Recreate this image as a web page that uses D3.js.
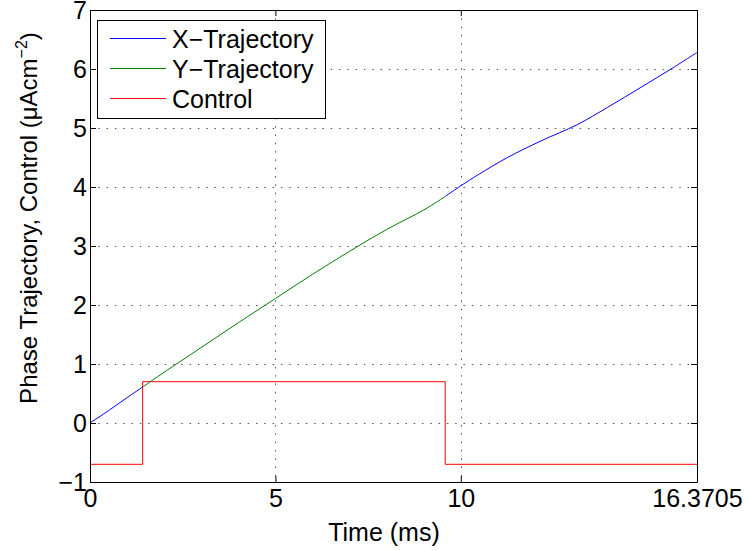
<!DOCTYPE html>
<html>
<head>
<meta charset="utf-8">
<script src="https://cdn.jsdelivr.net/npm/d3@7"></script>
<style>
  body { margin: 0; background: #fff; }
  text { font-family: "Liberation Sans", Arial, Helvetica, sans-serif; }
</style>
</head>
<body>
<div class="canvas"></div>
<script>
// data
// X trajectory, first part (control low)
const xTimesA = [0, 0.5, 1.0, 1.42];
const xPhaseA = [0, 0.21, 0.43, 0.61];
// Y trajectory (control high)
const yTimes = [1.42, 2, 3, 4, 5, 6, 7, 8, 9, 9.58];
const yPhase = [0.61, 0.86, 1.28, 1.7, 2.11, 2.52, 2.91, 3.28, 3.61, 3.84];
// X trajectory, second part
const xTimesB = [9.58, 10, 10.5, 11.26, 12.16, 13.15, 13.96, 14.86, 15.67, 16.3705];
const xPhaseB = [3.84, 4.02, 4.22, 4.5, 4.78, 5.06, 5.35, 5.69, 6.0, 6.28];
// control (bang-bang)
const controlTimes = [0, 1.42, 1.42, 9.58, 9.58, 16.3705];
const controlValues = [-0.7, -0.7, 0.7, 0.7, -0.7, -0.7];

const xTicks = [0, 5, 10, 16.3705];
const yTicks = [-1, 0, 1, 2, 3, 4, 5, 6, 7];
const legendNames = ["X\u2212Trajectory", "Y\u2212Trajectory", "Control"];
const legendColors = ["#0000ff", "#008000", "#ff0000"];

// chart setup
const chartSet = { width: 747, height: 550 };
const margin = { top: 10, right: 50, bottom: 68, left: 90 };
const innerW = chartSet.width - margin.left - margin.right;
const innerH = chartSet.height - margin.top - margin.bottom;

const svg = d3
  .select(".canvas")
  .append("svg")
  .attr("width", chartSet.width)
  .attr("height", chartSet.height);

const g = svg
  .append("g")
  .attr("transform", `translate(${margin.left}, ${margin.top})`);

const x = d3.scaleLinear().domain([0, 16.3705]).range([0, innerW]);
const y = d3.scaleLinear().domain([-1, 7]).range([innerH, 0]);

// grid, dotted like matlab
const grid = g.append("g").attr("stroke", "#555").attr("stroke-width", 1).attr("stroke-dasharray", "1.5,6.8");
grid.selectAll(".gx")
  .data(xTicks.slice(1, -1))
  .enter()
  .append("line")
  .attr("x1", (d) => Math.round(x(d)) + 0.5)
  .attr("x2", (d) => Math.round(x(d)) + 0.5)
  .attr("y1", 0)
  .attr("y2", innerH);
grid.selectAll(".gy")
  .data(yTicks.slice(1, -1))
  .enter()
  .append("line")
  .attr("y1", (d) => Math.round(y(d)) + 0.5)
  .attr("y2", (d) => Math.round(y(d)) + 0.5)
  .attr("x1", 0)
  .attr("x2", innerW);

// lines
const line = d3
  .line()
  .x((d) => x(d[0]))
  .y((d) => y(d[1]))
  .curve(d3.curveCatmullRom);
const stepLine = d3.line().x((d) => x(d[0])).y((d) => y(d[1]));

const series = [
  { pts: d3.zip(xTimesA, xPhaseA), color: legendColors[0] },
  { pts: d3.zip(yTimes, yPhase), color: legendColors[1] },
  { pts: d3.zip(xTimesB, xPhaseB), color: legendColors[0] },
];

g.append("path")
  .datum(d3.zip(controlTimes, controlValues))
  .attr("fill", "none")
  .attr("stroke", legendColors[2])
  .attr("stroke-width", 1)
  .attr("d", stepLine);

g.selectAll(".traj")
  .data(series)
  .enter()
  .append("path")
  .attr("fill", "none")
  .attr("stroke", (d) => d.color)
  .attr("stroke-width", 1)
  .attr("d", (d) => line(d.pts));

// axes with inward ticks on all sides
const fmtX = (d) => (d === 16.3705 ? "16.3705" : d3.format("d")(d));
const axisStyle = (sel) => {
  sel.selectAll("text").attr("font-size", 25).attr("fill", "#000")
    .style("font-family", '"Liberation Sans", Arial, sans-serif');
  sel.selectAll("line").attr("stroke", "#000");
  sel.select(".domain").attr("stroke", "#000");
};

g.append("g")
  .attr("transform", `translate(0, ${innerH})`)
  .call(d3.axisBottom(x).tickValues(xTicks).tickFormat(fmtX).tickSizeInner(-6).tickSizeOuter(0).tickPadding(7))
  .call(axisStyle);
g.append("g")
  .call(d3.axisTop(x).tickValues(xTicks).tickFormat("").tickSizeInner(-6).tickSizeOuter(0))
  .call(axisStyle);
g.append("g")
  .call(d3.axisLeft(y).tickValues(yTicks).tickSizeInner(-6).tickSizeOuter(0).tickPadding(3))
  .call(axisStyle);
g.append("g")
  .attr("transform", `translate(${innerW}, 0)`)
  .call(d3.axisRight(y).tickValues(yTicks).tickFormat("").tickSizeInner(-6).tickSizeOuter(0))
  .call(axisStyle);

// axis labels
svg.append("text")
  .attr("x", 384)
  .attr("y", 541)
  .attr("text-anchor", "middle")
  .attr("font-size", 25)
  .text("Time (ms)");

const yl = svg.append("text")
  .attr("transform", `translate(37, 218) rotate(-90)`)
  .attr("text-anchor", "middle")
  .attr("font-size", 24);
yl.append("tspan").text("Phase Trajectory, Control (\u03bcAcm");
yl.append("tspan").attr("dy", -10).attr("font-size", 16).text("\u22122");
yl.append("tspan").attr("dy", 10).text(")");

// legend
const legendGroup = svg.append("g").attr("transform", "translate(97, 20)");
legendGroup.append("rect")
  .attr("x", 0.5).attr("y", 0.5)
  .attr("width", 228).attr("height", 98)
  .attr("fill", "#fff").attr("stroke", "#000");
const items = legendGroup.selectAll(".item")
  .data(legendNames)
  .enter()
  .append("g")
  .attr("transform", (d, i) => `translate(0, ${18.5 + i * 30})`);
items.append("line")
  .attr("x1", 13).attr("x2", 69)
  .attr("stroke", (d, i) => legendColors[i]);
items.append("text")
  .attr("x", 75).attr("y", 9)
  .attr("font-size", 25)
  .text((d) => d);
</script>
</body>
</html>
